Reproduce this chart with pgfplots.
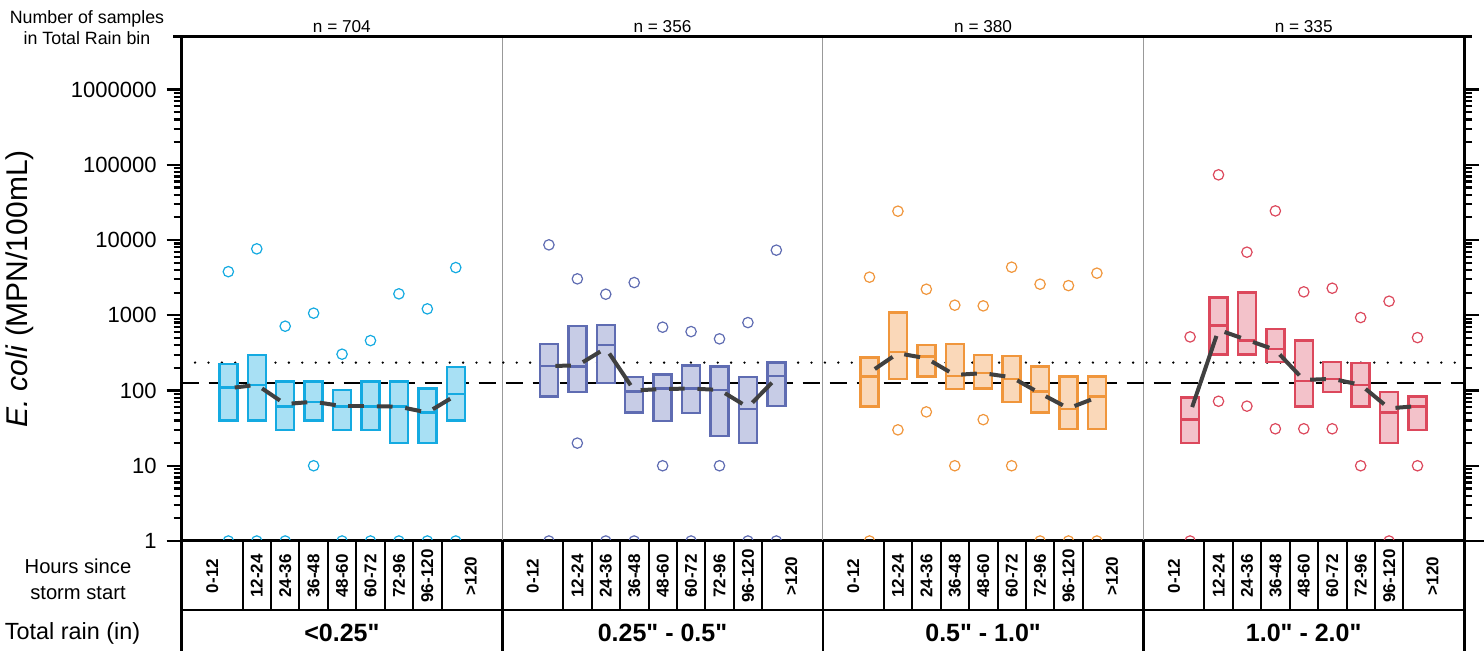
\documentclass[border=0pt]{standalone}
\usepackage{fontspec}
\setmainfont{Liberation Sans}
\usepackage{pgfplots}
\pgfplotsset{compat=1.18}
\usepackage{pgfplotstable}

\newcommand\qq{\XeTeXglyph\XeTeXcharglyph"22\relax}

\definecolor{eA}{RGB}{20,170,225}
\definecolor{fA}{RGB}{168,224,244}
\definecolor{eB}{RGB}{95,108,178}
\definecolor{fB}{RGB}{199,204,230}
\definecolor{eC}{RGB}{240,150,60}
\definecolor{fC}{RGB}{250,216,185}
\definecolor{eD}{RGB}{220,72,92}
\definecolor{fD}{RGB}{243,194,202}
\definecolor{gm}{RGB}{64,64,64}

% boxes: k = hour bin index, q1, median, q3, gm = connecting (geometric mean) line
\pgfplotstableread{
k q1 med q3 gm
0 40 110 226 107
1 40 119 297 119
2 30 61 131 66
3 40 71 131 71
4 30 61 101 62
5 30 61 131 62
6 20 61 131 61
7 20 51 107 51
8 40 90 206 86
}\boxA
\pgfplotstableread{
k q1 med q3 gm
0 83 212 417 212
1 95 208 723 215
2 127 400 738 365
3 51 97 150 100
4 39 107 164 105
5 50 107 214 106
6 25 102 208 102
7 20 57 150 60
8 62 156 235 146
}\boxB
\pgfplotstableread{
k q1 med q3 gm
0 61 153 274 173
1 141 323 1086 313
2 153 282 404 268
3 105 156 412 161
4 107 170 297 170
5 71 141 288 150
6 51 97 208 92
7 31 57 153 58
8 31 83 153 81
}\boxC
\pgfplotstableread{
k q1 med q3 gm
0 20 41 81 50
1 301 731 1721 640
2 301 461 2006 471
3 240 354 659 347
4 61 135 461 138
5 95 143 240 143
6 61 119 231 119
7 20 51 96 58
8 30 61 83 62
}\boxD

\pgfplotstableread{
k v
0 3800
0 1
1 7640
1 1
2 716
2 1
3 1067
3 10
4 304
4 1
5 461
5 1
6 1927
6 1
7 1217
7 1
8 4306
8 1
}\outA
\pgfplotstableread{
k v
0 8630
0 1
1 3050
1 20
2 1906
2 1
3 2723
3 1
4 695
4 10
5 607
5 1
6 486
6 10
7 800
7 1
8 7340
8 1
}\outB
\pgfplotstableread{
k v
0 3210
0 1
1 24200
1 30
2 2220
2 52
3 1362
3 10
4 1334
4 41
5 4360
5 10
6 2590
6 1
7 2480
7 1
8 3630
8 1
}\outC
\pgfplotstableread{
k v
0 516
0 1
1 73600
1 72
2 6900
2 62
3 24400
3 31
4 2048
4 31
5 2290
5 31
6 933
6 10
7 1538
7 1
8 505
8 10
}\outD

\newcommand\panel[5]{%
  \pgfplotsinvokeforeach{0,...,8}{%
    \pgfplotstablegetelem{##1}{q1}\of#1\let\qa\pgfplotsretval
    \pgfplotstablegetelem{##1}{med}\of#1\let\qm\pgfplotsretval
    \pgfplotstablegetelem{##1}{q3}\of#1\let\qb\pgfplotsretval
    \pgfmathsetmacro\xl{#3+##1-0.3165}%
    \pgfmathsetmacro\xr{#3+##1+0.3165}%
    \edef\tmpplot{%
      \noexpand\addplot[draw=#4, fill=#5, line width=1.2pt]
        coordinates {(\xl,\qa) (\xr,\qa) (\xr,\qb) (\xl,\qb)} --cycle;
      \noexpand\addplot[draw=#4, line width=1.2pt]
        coordinates {(\xl,\qm) (\xr,\qm)};}%
    \tmpplot
  }
  \pgfplotsinvokeforeach{0,...,7}{%
    \pgfplotstablegetelem{##1}{gm}\of#1\let\ga\pgfplotsretval
    \pgfmathtruncatemacro\nk{##1+1}%
    \pgfplotstablegetelem{\nk}{gm}\of#1\let\gb\pgfplotsretval
    \pgfmathsetmacro\xa{#3+##1}%
    \pgfmathsetmacro\xb{#3+##1+1}%
    \edef\tmpplot{%
      \noexpand\addplot[gm, line width=2pt, shorten <=3.2pt, shorten >=3.2pt]
        coordinates {(\xa,\ga) (\xb,\gb)};}%
    \tmpplot
  }
  \addplot[#4, only marks, mark=o, mark size=2.6pt, mark options={line width=0.6pt}] table[x expr=\thisrow{k}+#3, y=v] {#2};
}

\begin{document}
\begin{tikzpicture}
\path[use as bounding box] (-90.85pt,-55pt) rectangle (651.15pt,270.5pt);
\begin{axis}[
  at={(0,0)}, anchor=south west,
  scale only axis, width=641.15pt, height=252pt,
  xmin=0, xmax=45.108,
  ymode=log, ymin=1, ymax=5e6,
  xtick=\empty,
  ytick={1,10,100,1000,10000,100000,1000000},
  log ticks with fixed point,
  /pgf/number format/1000 sep={},
  /pgf/number format/assume math mode=true,
  yticklabel style={font=\fontsize{11}{13}\selectfont, xshift=-1.5pt},
  ytick pos=both, yticklabel pos=left,
  tick align=outside,
  major tick length=7.5pt, minor tick length=4pt,
  tick style={line width=1.1pt, black},
  axis line style={line width=1.5pt},
  clip=true, clip marker paths=true,
]
\addplot[black!40, line width=0.6pt] coordinates {(11.277,1) (11.277,5e6)};
\addplot[black!40, line width=0.6pt] coordinates {(22.554,1) (22.554,5e6)};
\addplot[black!40, line width=0.6pt] coordinates {(33.831,1) (33.831,5e6)};
\addplot[black, line width=1.3pt, dash pattern=on 0pt off 6.7pt, line cap=round] coordinates {(0,235) (45.108,235)};
\addplot[black, line width=1pt, dash pattern=on 8.5pt off 5pt] coordinates {(0,126) (45.108,126)};
\panel{\boxA}{\outA}{1.641}{eA}{fA}
\panel{\boxB}{\outB}{12.918}{eB}{fB}
\panel{\boxC}{\outC}{24.195}{eC}{fC}
\panel{\boxD}{\outD}{35.472}{eD}{fD}
\end{axis}

\begin{scope}[x=0.5pt, y=-0.5pt, shift={(-90.85pt,270.5pt)}]
  % top border extension
  \draw[line width=1.5pt] (173,37) -- (1472,37);
  % header
  \node[font=\fontsize{8.9}{10.5}\selectfont, align=center] at (87,27.5) {Number of samples\\in Total Rain bin};
  \foreach \cx/\n in {341.9/704, 662.5/356, 983.1/380, 1303.7/335}
    \node[font=\fontsize{8.6}{10}\selectfont] at (\cx,27) {n = \n};
  % y label
  \node[rotate=90, font=\fontsize{15}{18}\selectfont] at (20,289) {\textit{E. coli} (MPN/100mL)};
  % table
  \draw[line width=1.2pt] (167,541) -- (1484,541);
  \draw[line width=1.2pt] (181.7,610) -- (1464,610);
  \draw[line width=1.5pt] (181.7,541) -- (181.7,651);
  \draw[line width=1.5pt] (1464,541) -- (1464,651);
  \foreach \L in {502.3,822.9,1143.5}
    \draw[line width=1.2pt] (\L,541) -- (\L,651);
  \foreach \L in {181.7,502.3,822.9,1143.5}{
    \foreach \d in {60.9,89.3,117.7,146.2,174.6,203.0,231.5,259.9}
      \draw[line width=1pt] (\L+\d,541) -- (\L+\d,610);
    \node[rotate=90, font=\bfseries\fontsize{8.5}{10}\selectfont] at (\L+30.45,576) {0-12};
    \foreach \k/\t in {1/12-24,2/24-36,3/36-48,4/48-60,5/60-72,6/72-96,7/96-120}
      \node[rotate=90, font=\bfseries\fontsize{8.5}{10}\selectfont] at (\L+46.65+28.43*\k,576) {\t};
    \node[rotate=90, font=\bfseries\fontsize{8.5}{10}\selectfont] at (\L+289,576) {>120};
  }
  \node[font=\fontsize{10.1}{13}\selectfont, align=center] at (78,579) {Hours since\\storm start};
  \node[font=\fontsize{11.7}{14}\selectfont] at (72.5,633) {Total rain (in)};
  \node[font=\bfseries\fontsize{12.5}{15}\selectfont] at (341.9,633) {<0.25\qq};
  \node[font=\bfseries\fontsize{12.5}{15}\selectfont] at (662.5,633) {0.25\qq{} - 0.5\qq};
  \node[font=\bfseries\fontsize{12.5}{15}\selectfont] at (983.1,633) {0.5\qq{} - 1.0\qq};
  \node[font=\bfseries\fontsize{12.5}{15}\selectfont] at (1303.7,633) {1.0\qq{} - 2.0\qq};
\end{scope}
\end{tikzpicture}
\end{document}
